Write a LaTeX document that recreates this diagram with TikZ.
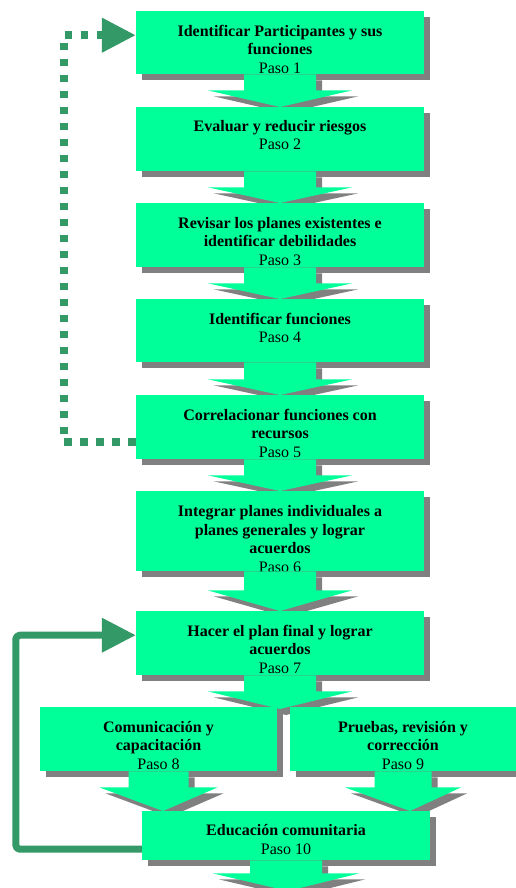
\documentclass[tikz,border=0pt]{standalone}
\usepackage{fontspec}
\setmainfont{Liberation Serif}
\usetikzlibrary{shadows,arrows.meta,calc}

\definecolor{verde}{HTML}{00FF99}
\definecolor{sombra}{HTML}{808080}
\definecolor{lazo}{HTML}{339966}

\tikzset{
  conSombra/.style={drop shadow={shadow xshift=6pt, shadow yshift=-6pt, fill=sombra, opacity=1}},
  caja/.style={fill=verde, inner sep=0pt, anchor=north, conSombra},
  texto/.style={font=\fontsize{16}{18.5}\selectfont, align=center, anchor=north, inner sep=0pt},
  flechaBloque/.style={fill=verde, conSombra},
  punteado/.style={draw=lazo, line width=7.5pt, dash pattern=on 7.5pt off 8.5pt, -{Triangle[length=34pt, width=33pt]}},
  continuo/.style={draw=lazo, line width=7pt, rounded corners=4pt, -{Triangle[length=34pt, width=33pt]}},
}

% #1 caja de origen, #2 punta, #3 medio ancho del tallo, #4 medio ancho de la cabeza, #5 largo del tallo
\newcommand{\flecha}[5]{%
  \fill[flechaBloque] ($(#1.south)+(-#3,0)$) -- ($(#1.south)+(#3,0)$) -- ($(#1.south)+(#3,#5)$)
    -- ($(#1.south)+(#4,#5)$) -- (#2) -- ($(#1.south)+(-#4,#5)$) -- ($(#1.south)+(-#3,#5)$) -- cycle;}

\begin{document}
\begin{tikzpicture}[x=1pt, y=-1pt, line join=round]
	\useasboundingbox (0,0) rectangle (516,888);
	
	% Puntos de entrada de cada caja (borde superior)
	\coordinate (e1) at (280,11);
	\coordinate (e2) at (280,107);
	\coordinate (e3) at (280,203);
	\coordinate (e4) at (280,299);
	\coordinate (e5) at (280,395);
	\coordinate (e6) at (280,491);
	\coordinate (e7) at (280,611);
	\coordinate (e8) at (158.5,707);
	\coordinate (e9) at (403,707);
	\coordinate (e10) at (286,811);
	% Puntas de las flechas que no caen en el centro de una caja
	\coordinate (s7) at (280,709);
	\coordinate (s8) at (163,811);
	\coordinate (s9) at (410,811);
	\coordinate (s10) at (288,891);
	
	% Paso 1
	\node[caja, minimum width=288pt, minimum height=63pt] (p1) at (e1) {};
	\node[texto] (t1) at ([yshift=-14pt]p1.north) {\textbf{Identificar Participantes y sus}\\\textbf{funciones}\\Paso 1};
	\flecha{p1}{e2}{36}{72}{16}
	
	% Paso 2
	\node[caja, minimum width=288pt, minimum height=64pt] (p2) at (e2) {};
	\node[texto] (t2) at ([yshift=-13pt]p2.north) {\textbf{Evaluar y reducir riesgos}\\Paso 2};
	\flecha{p2}{e3}{36}{72}{16}
	
	% Paso 3
	\node[caja, minimum width=288pt, minimum height=64pt] (p3) at (e3) {};
	\node[texto] (t3) at ([yshift=-14pt]p3.north) {\textbf{Revisar los planes existentes e}\\\textbf{identificar debilidades}\\Paso 3};
	\flecha{p3}{e4}{36}{72}{16}
	
	% Paso 4
	\node[caja, minimum width=288pt, minimum height=63pt] (p4) at (e4) {};
	\node[texto] (t4) at ([yshift=-14pt]p4.north) {\textbf{Identificar funciones}\\Paso 4};
	\flecha{p4}{e5}{36}{72}{17}
	
	% Paso 5
	\node[caja, minimum width=288pt, minimum height=64pt] (p5) at (e5) {};
	\node[texto] (t5) at ([yshift=-14pt]p5.north) {\textbf{Correlacionar funciones con}\\\textbf{recursos}\\Paso 5};
	\flecha{p5}{e6}{36}{72}{16}
	
	% Paso 6
	\node[caja, minimum width=288pt, minimum height=80pt] (p6) at (e6) {};
	\node[texto] (t6) at ([yshift=-14.5pt]p6.north) {\textbf{Integrar planes individuales a}\\\textbf{planes generales y lograr}\\\textbf{acuerdos}\\Paso 6};
	\flecha{p6}{e7}{36}{72}{19}
	
	% Paso 7
	\node[caja, minimum width=288pt, minimum height=64pt] (p7) at (e7) {};
	\node[texto] (t7) at ([yshift=-14pt]p7.north) {\textbf{Hacer el plan final y lograr}\\\textbf{acuerdos}\\Paso 7};
	\flecha{p7}{s7}{36}{72}{16}
	
	% Pasos 8 y 9
	\node[caja, minimum width=237pt, minimum height=64pt] (p8) at (e8) {};
	\node[texto] (t8) at ([yshift=-14pt]p8.north) {\textbf{Comunicación y}\\\textbf{capacitación}\\Paso 8};
	\node[caja, minimum width=226pt, minimum height=64pt] (p9) at (e9) {};
	\node[texto] (t9) at ([yshift=-14pt]p9.north) {\textbf{Pruebas, revisión y}\\\textbf{corrección}\\Paso 9};
	\flecha{p8}{s8}{30}{59}{16}
	\flecha{p9}{s9}{28.5}{58}{16}
	
	% Paso 10
	\node[caja, minimum width=288pt, minimum height=49pt] (p10) at (e10) {};
	\node[texto] (t10) at ([yshift=-13.5pt]p10.north) {\textbf{Educación comunitaria}\\Paso 10};
	\flecha{p10}{s10}{36}{73}{13}
	
	% Retornos
	\draw[punteado] ([yshift=-15pt]p5.west) -| ([xshift=-72pt, yshift=7.5pt]p1.west) -- ([yshift=7.5pt]p1.west);
	\draw[continuo] ([yshift=-13.5pt]p10.west) -| ([xshift=-120pt, yshift=8pt]p7.west) -- ([yshift=8pt]p7.west);
\end{tikzpicture}
\end{document}
